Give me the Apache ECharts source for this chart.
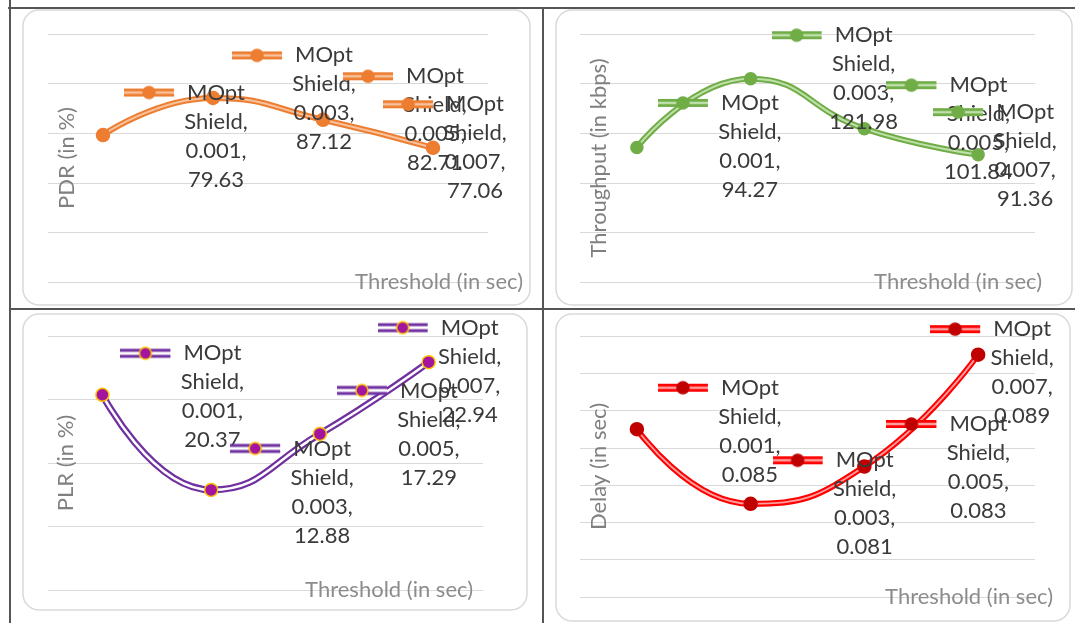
<!DOCTYPE html>
<html>
<head>
<meta charset="utf-8">
<title>MOpt Shield – threshold sweep</title>
<script src="https://cdn.jsdelivr.net/npm/echarts@6/dist/echarts.min.js"></script>
<style>
  html, body { margin: 0; padding: 0; background: #ffffff; }
  #chart { width: 1075px; height: 623px; }
</style>
</head>
<body>
<div id="chart"></div>
<script>
// Threshold values (seconds) shared by all four panels
const categories = ['0.001', '0.003', '0.005', '0.007'];
const seriesName = 'MOpt Shield';

// Measured metrics per threshold
const pdrValues = [79.63, 87.12, 82.71, 77.06];
const throughputValues = [94.27, 121.98, 101.84, 91.36];
const plrValues = [20.37, 12.88, 17.29, 22.94];
const delayValues = [0.085, 0.081, 0.083, 0.089];

// Value-axis ranges: [min, max, interval]
const pdrTicks = [50, 100, 10];
const throughputTicks = [40, 140, 20];
const plrTicks = [5, 25, 5];
const delayTicks = [0.076, 0.090, 0.002];

const FONT = 'Lato, "Open Sans", sans-serif';
const FS = 22;

// Layout and styling of the four panels
const panels = [
  {
    values: pdrValues, ticks: pdrTicks, yName: 'PDR (in %)',
    grid: { left: 48, top: 34, width: 440, height: 248 },
    yGap: -19, xGap: 35, xDy: 10,
    offsets: [[113, 1], [111, 1], [112, 0], [42, 0]],
    line: '#ed7d31', inner: '#f8c39c', lineW: 6, innerW: 2,
    marker: '#ed7d31', markerBorder: '#ed7d31', markerSize: 13
  },
  {
    values: throughputValues, ticks: throughputTicks, yName: 'Throughput (in kbps)',
    grid: { left: 580, top: 34, width: 455, height: 248 },
    yGap: -19, xGap: 7, xDy: -2,
    offsets: [[113, -1], [113, 0], [114, 0], [47, 1]],
    line: '#70ad47', inner: '#bfe0aa', lineW: 6, innerW: 2,
    marker: '#70ad47', markerBorder: '#70ad47', markerSize: 12
  },
  {
    values: plrValues, ticks: plrTicks, yName: 'PLR (in %)',
    grid: { left: 48, top: 336, width: 435, height: 254 },
    yGap: -18, xGap: -10, xDy: -5,
    offsets: [[110, 2], [111, 2], [109, 0], [41, 9]],
    line: '#7030a0', inner: '#ffffff', lineW: 7, innerW: 2.5,
    marker: '#a3159f', markerBorder: '#ffc000', markerSize: 13
  },
  {
    values: delayValues, ticks: delayTicks, yName: 'Delay (in sec)',
    grid: { left: 580, top: 336, width: 455, height: 261 },
    yGap: -19, xGap: 18, xDy: -2,
    offsets: [[113, 2], [114, 0], [114, 1], [44, 18]],
    line: '#ff0000', inner: '#ff9e9e', lineW: 6, innerW: 1.8,
    marker: '#c00000', markerBorder: '#c00000', markerSize: 13
  }
];

// Legend key drawn inside each data label: a short double line with a marker
function makeKey(p) {
  const c = document.createElement('canvas');
  c.width = 63; c.height = 18;
  const g = c.getContext('2d');
  g.lineCap = 'butt';
  g.strokeStyle = p.line; g.lineWidth = p.lineW + 2;
  g.beginPath(); g.moveTo(0, 9); g.lineTo(50, 9); g.stroke();
  g.strokeStyle = p.inner; g.lineWidth = p.innerW + 0.5;
  g.beginPath(); g.moveTo(0, 9); g.lineTo(50, 9); g.stroke();
  g.fillStyle = p.marker; g.strokeStyle = p.markerBorder; g.lineWidth = 1.5;
  g.beginPath(); g.arc(25, 9, 6, 0, Math.PI * 2); g.fill(); g.stroke();
  return c;
}

const nameParts = seriesName.split(' ');
function labelText(cat, v) {
  return '{key|}{t|' + nameParts[0] + '}{pad|}\n{t|' + nameParts[1] + ',}\n{t|' +
    cat + ',}\n{t|' + v + '}';
}

const grids = [], xAxes = [], yAxes = [], series = [];
panels.forEach((p, i) => {
  grids.push(Object.assign({ outerBoundsMode: 'none', containLabel: false }, p.grid));
  xAxes.push({
    type: 'category', gridIndex: i, data: categories, boundaryGap: true,
    axisLine: { show: false }, axisTick: { show: false }, axisLabel: { show: false },
    splitLine: { show: false },
    name: 'Threshold (in sec)', nameLocation: 'end', nameGap: p.xGap,
    nameTextStyle: {
      color: '#8c8c8c', fontFamily: FONT, fontSize: FS,
      align: 'right', verticalAlign: 'middle',
      padding: p.xDy >= 0 ? [2 * p.xDy, 0, 0, 0] : [0, 0, -2 * p.xDy, 0]
    }
  });
  yAxes.push({
    type: 'value', gridIndex: i, min: p.ticks[0], max: p.ticks[1], interval: p.ticks[2],
    axisLine: { show: false }, axisTick: { show: false }, axisLabel: { show: false },
    splitLine: { show: true, lineStyle: { color: '#d9d9d9', width: 1 } },
    name: p.yName, nameLocation: 'middle', nameGap: p.yGap, nameRotate: 90,
    nameMoveOverlap: false,
    nameTextStyle: { color: '#808080', fontFamily: FONT, fontSize: FS, verticalAlign: 'middle', align: 'center' }
  });
  const key = makeKey(p);
  // outer band of the double line
  series.push({
    name: seriesName, type: 'line', xAxisIndex: i, yAxisIndex: i,
    data: p.values, smooth: 0.5, showSymbol: false, silent: true, z: 2,
    lineStyle: { color: p.line, width: p.lineW }
  });
  // inner band, markers and value labels
  series.push({
    name: seriesName, type: 'line', xAxisIndex: i, yAxisIndex: i, z: 3,
    smooth: 0.5, symbol: 'circle', symbolSize: p.markerSize,
    lineStyle: { color: p.inner, width: p.innerW },
    itemStyle: { color: p.marker, borderColor: p.markerBorder, borderWidth: 1.5 },
    data: p.values.map((v, j) => ({
      value: v,
      label: {
        show: true, position: 'inside', offset: p.offsets[j],
        formatter: labelText(categories[j], v)
      }
    })),
    label: {
      align: 'center', verticalAlign: 'middle',
      rich: {
        t: { color: '#3a3a3a', fontFamily: FONT, fontSize: FS, lineHeight: 29 },
        key: { width: 63, height: 18, backgroundColor: { image: key } },
        pad: { width: 63, height: 18 }
      }
    }
  });
});

// Table frame and the rounded chart areas behind each panel
const frame = '#555555';
const areas = [
  [23, 10, 507, 295], [556, 10, 516, 295],
  [23, 314, 504, 296], [556, 314, 514, 307]
];
const graphic = [];
areas.forEach(a => graphic.push({
  type: 'rect', z: -10, shape: { x: a[0], y: a[1], width: a[2], height: a[3], r: 16 },
  style: { fill: '#ffffff', stroke: '#d9d9d9', lineWidth: 1.5 }
}));
[[8, 8, 1075, 8], [10, 0, 10, 623], [543, 8, 543, 623], [10, 309, 1075, 309]].forEach(l =>
  graphic.push({
    type: 'line', z: -5, shape: { x1: l[0], y1: l[1], x2: l[2], y2: l[3] },
    style: { stroke: frame, lineWidth: 2 }
  }));

const chart = echarts.init(document.getElementById('chart'), null, { renderer: 'canvas' });
chart.setOption({
  animation: false,
  backgroundColor: '#ffffff',
  textStyle: { fontFamily: FONT },
  graphic: graphic,
  grid: grids,
  xAxis: xAxes,
  yAxis: yAxes,
  series: series
});
</script>
</body>
</html>
